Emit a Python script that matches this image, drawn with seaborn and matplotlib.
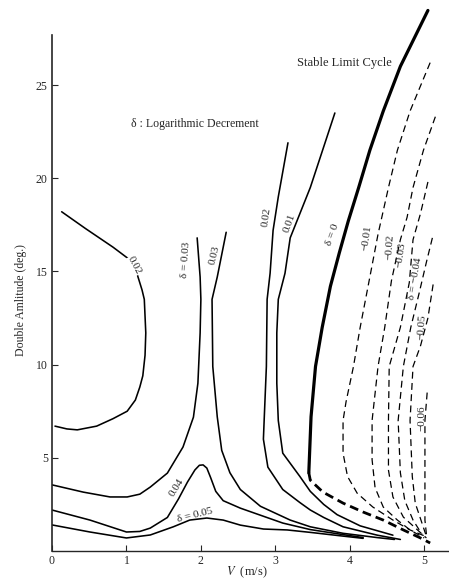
import matplotlib
matplotlib.use("Agg")
import matplotlib.pyplot as plt
import seaborn as sns

sns.set_style("ticks")
plt.rcParams['font.family'] = ['Liberation Serif', 'DejaVu Serif']
plt.rcParams['mathtext.fontset'] = 'stix'

# Equal-decrement contours: (V [m/s], double amplitude [deg])
c002_left_v = [0.04, 0.20, 0.34, 0.60, 0.82, 1.01, 1.12, 1.18, 1.22, 1.25, 1.26, 1.24, 1.21, 1.14, 1.02, 0.82, 0.45, 0.13]
c002_left_a = [6.7, 6.55, 6.5, 6.7, 7.1, 7.5, 8.1, 8.8, 9.4, 10.5, 11.7, 13.5, 14.0, 14.9, 15.7, 16.3, 17.3, 18.2]

c003_left_v = [0.0, 0.42, 0.78, 1.01, 1.18, 1.32, 1.55, 1.76, 1.90, 1.96, 1.99, 2.00, 1.99, 1.95]
c003_left_a = [3.55, 3.16, 2.90, 2.90, 3.05, 3.43, 4.18, 5.58, 7.18, 9.0, 11.7, 13.5, 14.7, 16.8]

c003_right_v = [2.34, 2.22, 2.15, 2.16, 2.22, 2.28, 2.39, 2.53, 2.80, 3.20, 3.47, 3.91, 4.37, 4.60]
c003_right_a = [17.1, 14.7, 13.5, 9.9, 7.2, 5.4, 4.2, 3.3, 2.4, 1.66, 1.3, 0.95, 0.72, 0.62]

c004_v = [0.0, 0.51, 1.00, 1.18, 1.32, 1.55, 1.70, 1.82, 1.92, 1.98, 2.03, 2.08, 2.13, 2.20, 2.30, 2.53, 3.10, 3.47, 3.91, 4.18]
c004_a = [2.2, 1.66, 1.02, 1.05, 1.23, 1.8, 2.8, 3.7, 4.35, 4.6, 4.62, 4.45, 3.95, 3.2, 2.7, 2.3, 1.5, 1.15, 0.88, 0.72]

c005_v = [0.0, 0.51, 1.00, 1.32, 1.63, 1.85, 2.08, 2.30, 2.53, 2.84, 3.16, 3.47, 3.91, 4.18]
c005_a = [1.4, 1.02, 0.70, 0.86, 1.3, 1.66, 1.77, 1.66, 1.39, 1.18, 1.13, 1.0, 0.80, 0.68]

c002_right_v = [3.17, 3.04, 2.97, 2.93, 2.89, 2.88, 2.85, 2.84, 2.90, 3.10, 3.33, 3.47, 3.65, 3.91, 4.37, 4.68]
c002_right_a = [21.9, 19.0, 17.2, 14.9, 13.5, 9.9, 7.0, 6.0, 4.5, 3.3, 2.6, 2.2, 1.8, 1.3, 0.85, 0.62]

c001_v = [3.80, 3.47, 3.20, 3.13, 3.04, 3.02, 3.02, 3.04, 3.10, 3.33, 3.47, 3.65, 3.83, 4.14, 4.58]
c001_a = [23.5, 19.5, 16.8, 14.9, 13.5, 11.7, 9.0, 7.0, 5.25, 4.0, 3.2, 2.5, 1.95, 1.35, 0.85]

c000_stable_v = [5.05, 4.68, 4.45, 4.27, 4.12, 3.98, 3.86, 3.74, 3.63, 3.54, 3.48, 3.45]
c000_stable_a = [29.0, 26.0, 23.6, 21.5, 19.5, 17.7, 16.0, 14.2, 12.0, 9.9, 7.2, 4.2]
c000_unstable_v = [3.45, 3.47, 3.64, 3.91, 4.18, 4.45, 4.72, 4.95, 5.08]
c000_unstable_a = [4.2, 3.8, 3.16, 2.57, 2.09, 1.66, 1.13, 0.70, 0.43]

cm001_v = [5.08, 4.81, 4.64, 4.52, 4.38, 4.27, 4.14, 4.05, 3.95, 3.91, 3.91, 3.97, 4.10, 4.31, 4.58, 4.81, 5.04]
cm001_a = [26.2, 23.6, 21.5, 19.5, 17.0, 14.7, 12.0, 9.9, 8.0, 7.0, 5.25, 4.0, 3.1, 2.36, 1.66, 1.13, 0.75]

cm002_v = [5.15, 4.99, 4.85, 4.77, 4.68, 4.56, 4.47, 4.38, 4.30, 4.30, 4.34, 4.45, 4.64, 4.81, 5.00]
cm002_a = [23.3, 21.5, 19.5, 17.9, 16.7, 14.5, 12.0, 9.9, 7.0, 4.9, 3.4, 2.36, 1.66, 1.13, 0.70]

cm003_v = [5.05, 4.95, 4.85, 4.80, 4.68, 4.53, 4.52, 4.52, 4.58, 4.72, 4.91, 5.03]
cm003_a = [19.8, 18.1, 16.7, 14.4, 12.0, 9.9, 7.0, 4.34, 2.9, 1.82, 1.13, 0.70]

cm004_v = [5.11, 5.03, 4.93, 4.82, 4.72, 4.65, 4.68, 4.74, 4.85, 4.97]
cm004_a = [16.8, 15.5, 13.8, 12.0, 9.9, 7.0, 4.2, 2.7, 1.66, 0.9]

cm005_v = [5.12, 5.05, 4.95, 4.85, 4.81, 4.84, 4.88, 4.97, 5.02]
cm005_a = [14.3, 12.5, 11.0, 9.9, 7.0, 4.0, 2.57, 1.5, 0.9]

cm006_v = [5.04, 5.01, 5.01, 5.01, 5.01, 5.03]
cm006_a = [8.5, 7.0, 5.25, 3.4, 1.66, 0.9]

x_ticks = [0, 1, 2, 3, 4, 5]
y_ticks = [5, 10, 15, 20, 25]

fig = plt.figure(figsize=(4.49, 5.87), dpi=100)
ax = fig.add_axes([0.1158, 0.0613, 0.882, 0.9336])

solid = dict(color="black", linewidth=1.15, sort=False, estimator=None, ax=ax)
dashed = dict(color="black", linewidth=0.9, linestyle=(0, (5.5, 3.5)), sort=False, estimator=None, ax=ax)

for v, a in [(c002_left_v, c002_left_a), (c003_left_v, c003_left_a), (c003_right_v, c003_right_a),
             (c004_v, c004_a), (c005_v, c005_a), (c002_right_v, c002_right_a), (c001_v, c001_a)]:
    sns.lineplot(x=v, y=a, **solid)

sns.lineplot(x=c000_stable_v, y=c000_stable_a, color="black", linewidth=2.3, sort=False, estimator=None, ax=ax)
sns.lineplot(x=c000_unstable_v, y=c000_unstable_a, color="black", linewidth=2.0,
             linestyle=(0, (3.2, 1.8)), sort=False, estimator=None, ax=ax)

for v, a in [(cm001_v, cm001_a), (cm002_v, cm002_a), (cm003_v, cm003_a),
             (cm004_v, cm004_a), (cm005_v, cm005_a), (cm006_v, cm006_a)]:
    sns.lineplot(x=v, y=a, **dashed)

# contour labels
lab = dict(fontsize=8, ha="center", va="center", rotation_mode="anchor")
ax.text(1.10, 15.3, "0.02", rotation=-62,
        bbox=dict(facecolor="white", edgecolor="none", pad=0.3), **lab)
ax.text(1.80, 15.6, "δ = 0.03", rotation=86, **lab)
ax.text(2.19, 15.9, "0.03", rotation=76, **lab)
ax.text(2.88, 17.9, "0.02", rotation=82, **lab)
ax.text(3.19, 17.6, "0.01", rotation=70, **lab)
ax.text(3.77, 17.0, "δ = 0", rotation=70, **lab)
ax.text(4.23, 16.8, "−0.01", rotation=82, **lab)
ax.text(4.54, 16.3, "−0.02", rotation=86, **lab)
ax.text(4.68, 15.9, "−0.03", rotation=82, **lab)
ax.text(4.88, 14.6, "δ = −0.04", rotation=80, **lab)
ax.text(4.97, 12.0, "−0.05", rotation=86, **lab)
ax.text(4.97, 7.1, "−0.06", rotation=90, **lab)
ax.text(1.68, 3.4, "0.04", rotation=58, **lab)
ax.text(1.92, 1.9, "δ = 0.05", rotation=14, **lab)

ax.text(3.29, 26.2, "Stable Limit Cycle", fontsize=9, ha="left", va="center")
ax.text(1.06, 22.9, "δ : Logarithmic Decrement", fontsize=8.5, ha="left", va="center")

ax.set_xlim(0, 5.32)
ax.set_ylim(0, 29.4)
ax.set_xticks(x_ticks)
ax.set_yticks(y_ticks)
ax.tick_params(direction="in", length=4, width=0.8, labelsize=8.5, pad=3)
ax.spines["top"].set_visible(False)
ax.spines["right"].set_visible(False)
ax.spines["left"].set_bounds(0, 27.7)
ax.spines["left"].set_linewidth(1.2)
ax.spines["bottom"].set_linewidth(1.0)
ax.set_xlabel("")
ax.set_ylabel("")

fig.text(21 / 449, 1 - 300 / 587, "Double Amlitude (deg.)", rotation=90, fontsize=8.5,
         ha="center", va="center")
fig.text(247 / 449, 1 - 572 / 587, r"$V$  (m/s)", fontsize=9, ha="center", va="center")

fig.savefig("out.png", dpi=100)
